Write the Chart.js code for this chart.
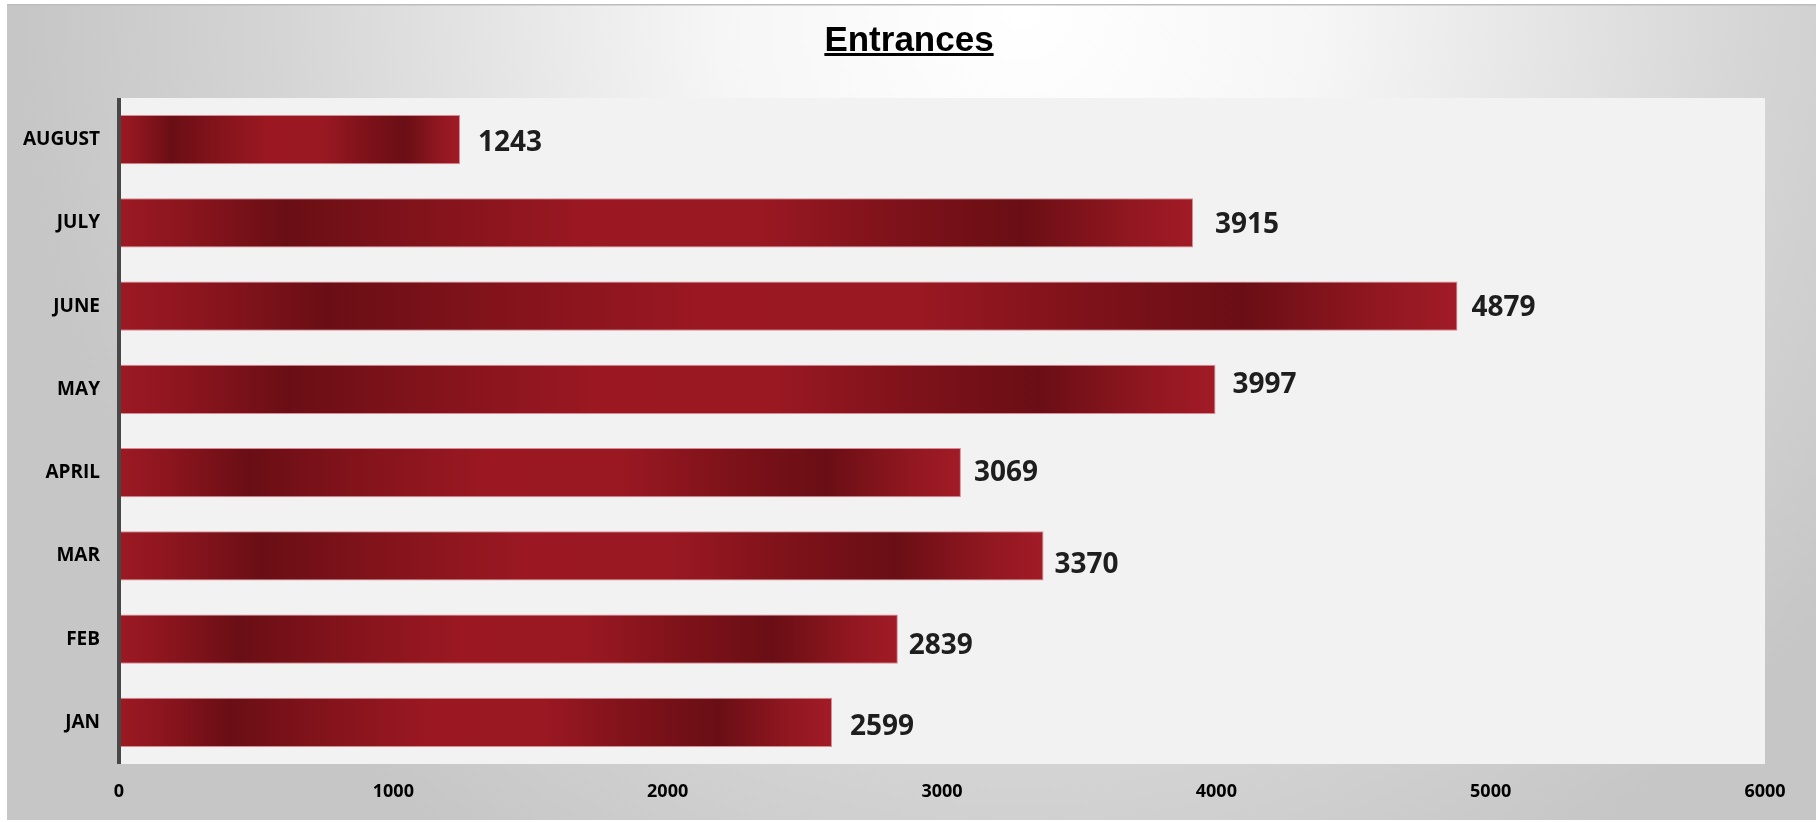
<!DOCTYPE html>
<html>
<head>
<meta charset="utf-8">
<title>Entrances</title>
<script src="https://cdn.jsdelivr.net/npm/chart.js@4.4.1/dist/chart.umd.min.js"></script>
<style>
	html, body { margin: 0; padding: 0; background: #ffffff; }
	#wrap { width: 1816px; height: 822px; position: relative; }
</style>
</head>
<body>
<div id="wrap"><canvas id="barChart"></canvas></div>
<script>
// data
var months = [ "JAN", "FEB", "MAR", "APRIL", "MAY", "JUNE", "JULY", "AUGUST" ];
var entrances = [ 2599, 2839, 3370, 3069, 3997, 4879, 3915, 1243 ];
var xTicks = [ 0, 1000, 2000, 3000, 4000, 5000, 6000 ];
var chartTitle = "Entrances";

// the value labels were nudged by hand in the original (px)
var labelNudgeX = [ 4, -3, -3, -1, 3, 0, 8, 4 ];
var labelNudgeY = [ 5, 7, 9, 0, -4, 2, 2, 3 ];

// background, frame and plot area
var backdrop = {
	id : 'backdrop',
	beforeDraw : function(chart) {
		var ctx = chart.ctx;
		var w = chart.width, h = chart.height;
		var area = chart.chartArea;
		ctx.save();
		ctx.fillStyle = '#ffffff';
		ctx.fillRect(0, 0, w, h);
		var g = ctx.createRadialGradient(1020, 10, 0, 1020, 10, 1000);
		g.addColorStop(0, '#ffffff');
		g.addColorStop(0.3, '#f6f6f6');
		g.addColorStop(0.75, '#d4d4d4');
		g.addColorStop(1, '#c6c6c6');
		ctx.fillStyle = g;
		ctx.fillRect(7, 4, w - 7, 816);
		ctx.fillStyle = '#bdbdbd';
		ctx.fillRect(7, 4, w - 7, 1.5);
		ctx.fillStyle = '#f2f2f2';
		ctx.fillRect(area.left, area.top, area.right - area.left, area.bottom - area.top);
		ctx.restore();
	}
};

// axis line, value labels and underlined title
var decorations = {
	id : 'decorations',
	afterDatasetsDraw : function(chart) {
		var ctx = chart.ctx;
		var area = chart.chartArea;
		ctx.save();
		ctx.fillStyle = '#474747';
		ctx.fillRect(area.left - 2, area.top, 4, area.bottom - area.top);

		ctx.font = "700 28px 'Open Sans'";
		ctx.fillStyle = '#1e1e1e';
		ctx.textAlign = 'left';
		ctx.textBaseline = 'middle';
		var meta = chart.getDatasetMeta(0);
		meta.data.forEach(function(bar, i) {
			ctx.fillText(String(entrances[i]), bar.x + 14 + labelNudgeX[i], bar.y + labelNudgeY[i]);
		});

		ctx.font = "bold 35px 'Liberation Sans', Arial";
		ctx.fillStyle = '#000000';
		ctx.textAlign = 'center';
		ctx.textBaseline = 'alphabetic';
		var cx = 909;
		ctx.fillText(chartTitle, cx, 51);
		var tw = ctx.measureText(chartTitle).width;
		ctx.fillRect(cx - tw / 2, 53, tw, 3);
		ctx.restore();
	}
};

function barGradient(c) {
	var chart = c.chart;
	if (!chart.chartArea) {
		return '#9a1822';
	}
	var x0 = chart.scales.x.getPixelForValue(0);
	var x1 = chart.scales.x.getPixelForValue(c.raw);
	var g = chart.ctx.createLinearGradient(x0, 0, x1, 0);
	g.addColorStop(0, '#9c1923');
	g.addColorStop(0.06, '#8c151e');
	g.addColorStop(0.155, '#6a0e15');
	g.addColorStop(0.28, '#82131b');
	g.addColorStop(0.44, '#9b1822');
	g.addColorStop(0.6, '#991822');
	g.addColorStop(0.72, '#7f121a');
	g.addColorStop(0.84, '#6a0e15');
	g.addColorStop(0.94, '#911720');
	g.addColorStop(1, '#a11b26');
	return g;
}

var ctxB = document.getElementById("barChart").getContext('2d');
var myBarChart = new Chart(ctxB, {
	type : 'bar',
	data : {
		labels : months,
		datasets : [ {
			label : chartTitle,
			data : entrances,
			backgroundColor : barGradient,
			borderColor : 'rgba(214, 128, 138, 0.9)',
			borderWidth : 1,
			barPercentage : 0.59,
			categoryPercentage : 1.0
		} ]
	},
	plugins : [ backdrop, decorations ],
	options : {
		indexAxis : 'y',
		responsive : true,
		maintainAspectRatio : false,
		animation : false,
		layout : {
			padding : { left : 0, top : 98, right : 51, bottom : 0 }
		},
		plugins : {
			legend : { display : false },
			title : { display : false },
			tooltip : { enabled : false }
		},
		scales : {
			x : {
				min : xTicks[0],
				max : xTicks[xTicks.length - 1],
				afterFit : function(scale) { scale.height = 58; },
				afterBuildTicks : function(scale) {
					scale.ticks = xTicks.map(function(v) { return { value : v }; });
				},
				grid : { display : false, drawTicks : false },
				border : { display : false },
				ticks : {
					padding : 17,
					color : '#000000',
					maxRotation : 0,
					callback : function(value) { return String(value); },
					font : { family : "'Open Sans'", size : 18, weight : '700' }
				}
			},
			y : {
				reverse : true,
				afterFit : function(scale) { scale.width = 119; },
				grid : { display : false, drawTicks : false },
				border : { display : false },
				ticks : {
					padding : 19,
					color : '#000000',
					font : { family : "'Open Sans'", size : 19, weight : '700' }
				}
			}
		}
	}
});
</script>
</body>
</html>
